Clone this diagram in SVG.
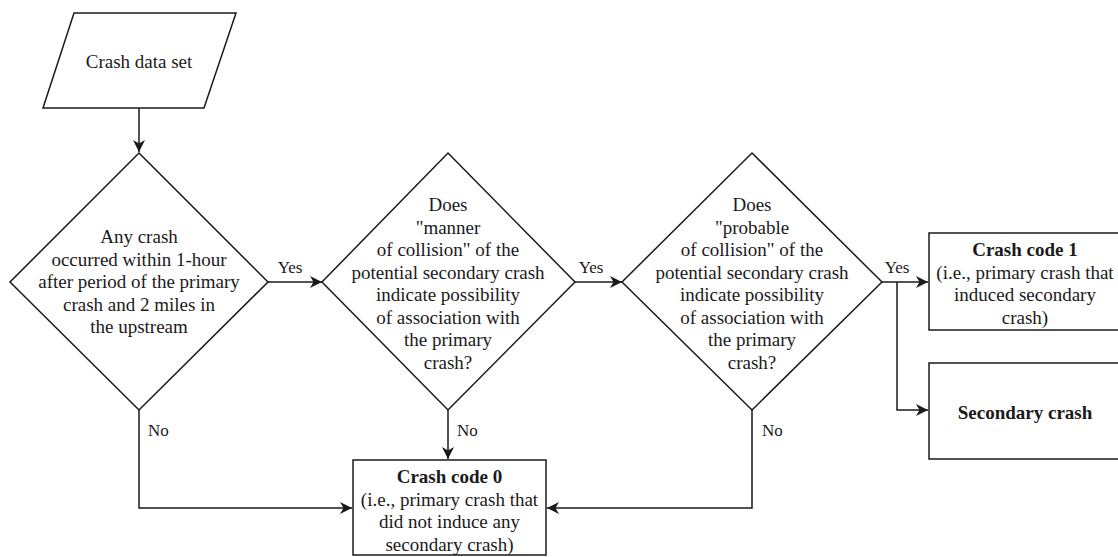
<svg xmlns="http://www.w3.org/2000/svg" width="1118" height="557" viewBox="0 0 1118 557">
<style>
.shape{fill:#fff;stroke:#1a1a1a;stroke-width:1.5}
.conn{fill:none;stroke:#1a1a1a;stroke-width:1.5}
text{font-family:"Liberation Serif","Times New Roman",serif;fill:#1a1a1a}
.t{font-size:19px;text-anchor:middle}
.b{font-weight:bold}
.lbl{font-size:17px}
</style>
<defs>
<marker id="arr" markerUnits="userSpaceOnUse" markerWidth="13" markerHeight="12" refX="12" refY="6" orient="auto">
<path d="M0,0 L12,6 L0,12 L3.5,6 z" fill="#1a1a1a"/>
</marker>
</defs>
<g id="connectors">
<polyline class="conn" points="139,108 139,152" marker-end="url(#arr)"/>
<polyline class="conn" points="268,282 322,282" marker-end="url(#arr)"/>
<polyline class="conn" points="575,282 622,282" marker-end="url(#arr)"/>
<polyline class="conn" points="882,282 928,282" marker-end="url(#arr)"/>
<polyline class="conn" points="897,282 897,410 928,410" marker-end="url(#arr)"/>
<polyline class="conn" points="139,410 139,508 352,508" marker-end="url(#arr)"/>
<polyline class="conn" points="448,410 448,459" marker-end="url(#arr)"/>
<polyline class="conn" points="752,410 752,508 547,508" marker-end="url(#arr)"/>
<text class="lbl" x="290" y="273" text-anchor="middle">Yes</text>
<text class="lbl" x="591" y="273" text-anchor="middle">Yes</text>
<text class="lbl" x="897" y="273" text-anchor="middle">Yes</text>
<text class="lbl" x="148" y="436">No</text>
<text class="lbl" x="457" y="436">No</text>
<text class="lbl" x="762" y="436">No</text>
</g>
<g id="start">
<polygon class="shape" points="74,13 236,13 204,108 43,108"/>
<text class="t" x="139" y="68">Crash data set</text>
</g>
<g id="decision1">
<polygon class="shape" points="139,153 268,282 139,410 10,282"/>
<text class="t" x="139" y="243">Any crash</text>
<text class="t" x="139" y="265.5">occurred within 1-hour</text>
<text class="t" x="139" y="288">after period of the primary</text>
<text class="t" x="139" y="310.5">crash and 2 miles in</text>
<text class="t" x="139" y="333">the upstream</text>
</g>
<g id="decision2">
<polygon class="shape" points="448,153 575,282 448,410 322,282"/>
<text class="t" x="448" y="211">Does</text>
<text class="t" x="448" y="233.5">"manner</text>
<text class="t" x="448" y="256">of collision" of the</text>
<text class="t" x="448" y="278.5">potential secondary crash</text>
<text class="t" x="448" y="301">indicate possibility</text>
<text class="t" x="448" y="323.5">of association with</text>
<text class="t" x="448" y="346">the primary</text>
<text class="t" x="448" y="368.5">crash?</text>
</g>
<g id="decision3">
<polygon class="shape" points="752,153 882,282 752,410 622,282"/>
<text class="t" x="752" y="211">Does</text>
<text class="t" x="752" y="233.5">"probable</text>
<text class="t" x="752" y="256">of collision" of the</text>
<text class="t" x="752" y="278.5">potential secondary crash</text>
<text class="t" x="752" y="301">indicate possibility</text>
<text class="t" x="752" y="323.5">of association with</text>
<text class="t" x="752" y="346">the primary</text>
<text class="t" x="752" y="368.5">crash?</text>
</g>
<g id="code1">
<rect class="shape" x="929" y="233" width="192" height="97"/>
<text class="t b" x="1025" y="256">Crash code 1</text>
<text class="t" x="1025" y="279">(i.e., primary crash that</text>
<text class="t" x="1025" y="301">induced secondary</text>
<text class="t" x="1025" y="324">crash)</text>
</g>
<g id="secondary">
<rect class="shape" x="929" y="363" width="192" height="96"/>
<text class="t b" x="1025" y="419">Secondary crash</text>
</g>
<g id="code0">
<rect class="shape" x="353" y="460" width="193" height="95"/>
<text class="t b" x="449.5" y="483">Crash code 0</text>
<text class="t" x="449.5" y="506">(i.e., primary crash that</text>
<text class="t" x="449.5" y="528">did not induce any</text>
<text class="t" x="449.5" y="551">secondary crash)</text>
</g>
</svg>
